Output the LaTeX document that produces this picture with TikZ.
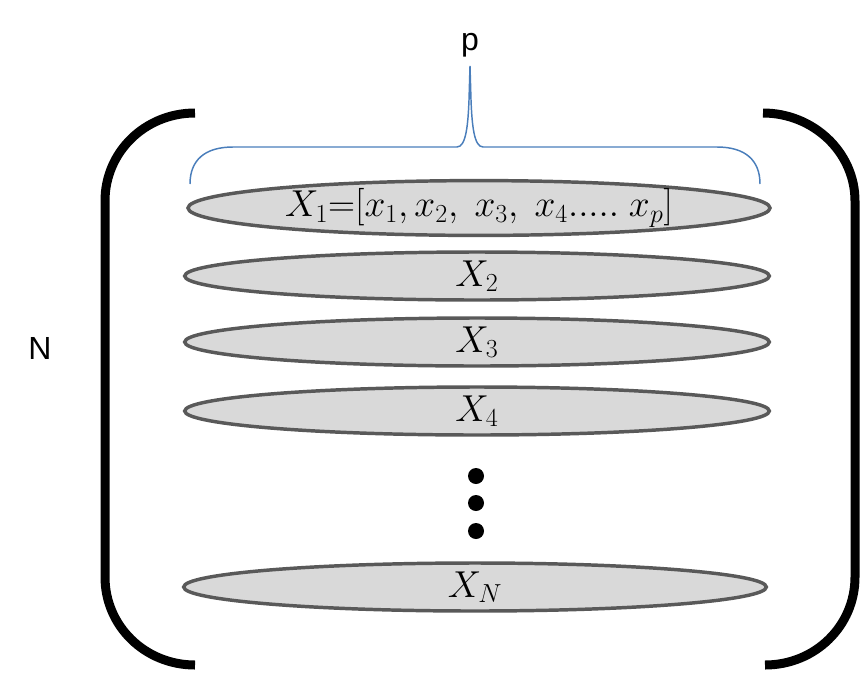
\documentclass[tikz,border=0pt]{standalone}
\usepackage{fontspec}
\setmainfont{Liberation Sans}
\usetikzlibrary{shapes.geometric}
\definecolor{ellfill}{HTML}{D9D9D9}
\definecolor{elldraw}{HTML}{595959}
\definecolor{braceblue}{HTML}{4A7EBB}
\tikzset{
  rowell/.style={ellipse, draw=elldraw, fill=ellfill, line width=2.6pt, inner sep=0pt,
    minimum height=36pt, font=\fontsize{24}{28}\selectfont},
  bigbracket/.style={line width=6.75pt, line cap=butt},
  dotnode/.style={circle, fill=black, inner sep=0pt, minimum size=12pt},
  lbl/.style={font=\fontsize{24}{28}\selectfont, inner sep=0pt}
}
\newcommand{\bigmath}[1]{\scalebox{1.13}{#1}}
\newcommand{\lowtxt}[1]{\raisebox{-3pt}{\scalebox{1.13}{#1}}}
\begin{document}
\begin{tikzpicture}[x=0.75pt,y=-0.75pt]
\useasboundingbox (0,0) rectangle (860,672);
% brackets
\draw[bigbracket] (195,113) .. controls (145,113) and (105,152) .. (105,201) -- (105,577) .. controls (105,626) and (145,665) .. (195,665);
\draw[bigbracket] (763,113) .. controls (813,113) and (855,152) .. (855,201) -- (855,577) .. controls (855,626) and (815,665) .. (765,665);
% brace
\draw[braceblue, line width=1.1pt] (190,184) .. controls (190,160) and (205,147) .. (233,147) -- (457,147)
  .. controls (466,147) and (468,125) .. (469,100) -- (470,66) -- (471,100)
  .. controls (472,125) and (474,147) .. (483,147) -- (717,147)
  .. controls (745,147) and (760,160) .. (760,184);
% labels
\node[lbl] (p) at (470,45) {p};
\node[lbl] (N) at (40,348) {N};
% rows
\node[rowell, minimum width=436.5pt] (x1) at (479,208) {\bigmath{$X_1{=}[x_1,x_2,\ x_3,\ x_4.....\ x_p]$}};
\node[rowell, minimum width=438.5pt] (x2) at (477,276) {\lowtxt{$X_2$}};
\node[rowell, minimum width=438.5pt] (x3) at (477,342) {\lowtxt{$X_3$}};
\node[rowell, minimum width=438.5pt] (x4) at (477,411) {\lowtxt{$X_4$}};
\node[rowell, minimum width=437pt] (xN) at (475,587) {\lowtxt{$X_N$}};
% dots
\node[dotnode] (d1) at (476,476) {};
\node[dotnode] (d2) at (476,503) {};
\node[dotnode] (d3) at (476,531) {};
\end{tikzpicture}
\end{document}
